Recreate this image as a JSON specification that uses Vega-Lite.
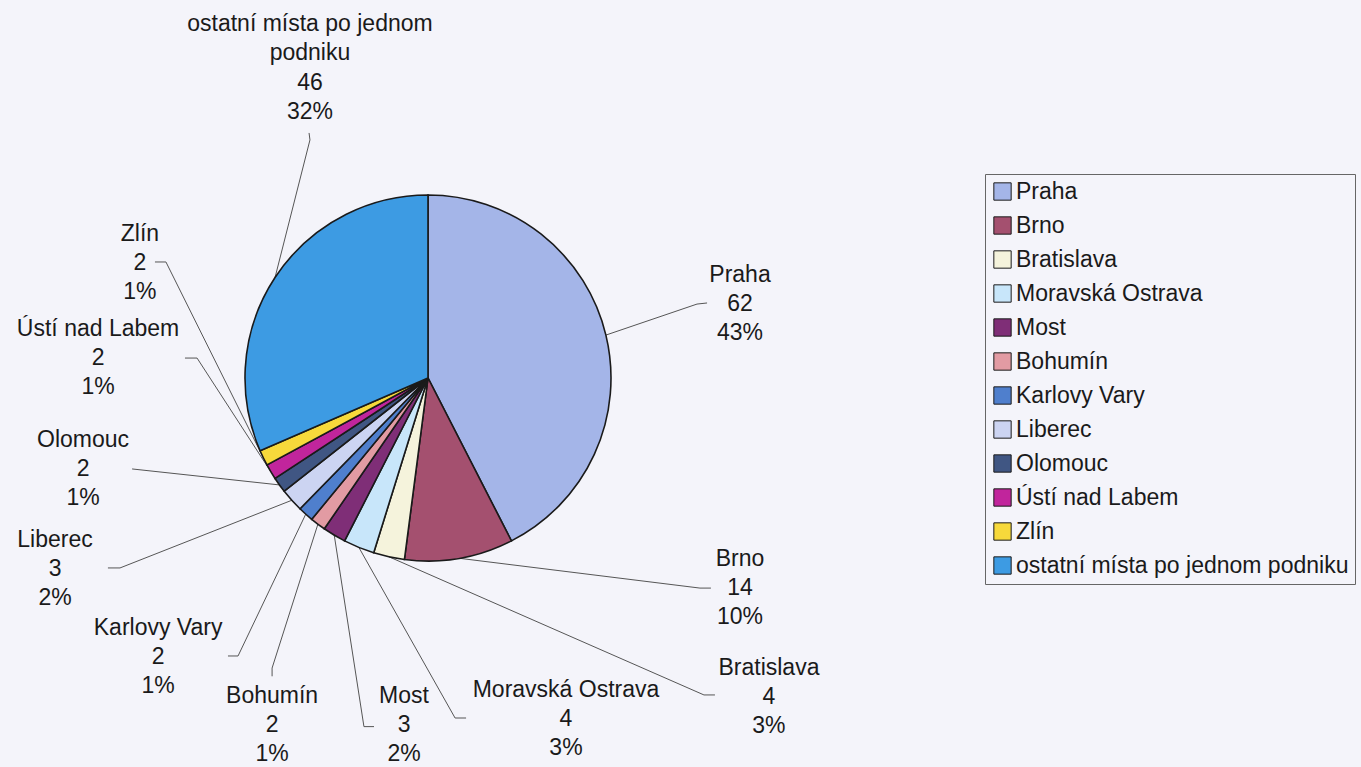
{
  "$schema": "https://vega.github.io/schema/vega-lite/v6.json",
  "width": 856,
  "height": 756,
  "autosize": {"type": "none"},
  "padding": {"left": 0, "top": 0, "right": 505, "bottom": 11},
  "background": "#f4f4fa",
  "config": {
    "view": {"stroke": null},
    "font": "Liberation Sans",
    "text": {"font": "Liberation Sans"}
  },
  "data": {
    "values": [
      {"i": 1, "name": "Praha", "tname": "Praha", "value": 62, "pct": "43%", "lx": 1.705, "ly": 0.404, "ex": 1.470, "ey": 0.404, "tx": 1.525, "ty": 0.410},
      {"i": 2, "name": "Brno", "tname": "Brno", "value": 14, "pct": "10%", "lx": 1.705, "ly": -1.148, "ex": 1.486, "ey": -1.148, "tx": 1.546, "ty": -1.148},
      {"i": 3, "name": "Bratislava", "tname": "Bratislava", "value": 4, "pct": "3%", "lx": 1.863, "ly": -1.743, "ex": 1.508, "ey": -1.732, "tx": 1.568, "ty": -1.732},
      {"i": 4, "name": "Moravská Ostrava", "tname": "Moravská Ostrava", "value": 4, "pct": "3%", "lx": 0.754, "ly": -1.863, "ex": 0.148, "ey": -1.858, "tx": 0.208, "ty": -1.858},
      {"i": 5, "name": "Most", "tname": "Most", "value": 3, "pct": "2%", "lx": -0.131, "ly": -1.897, "ex": -0.350, "ey": -1.905, "tx": -0.295, "ty": -1.905},
      {"i": 6, "name": "Bohumín", "tname": "Bohumín", "value": 2, "pct": "1%", "lx": -0.852, "ly": -1.897, "ex": -0.852, "ey": -1.585, "tx": -0.852, "ty": -1.630},
      {"i": 7, "name": "Karlovy Vary", "tname": "Karlovy Vary", "value": 2, "pct": "1%", "lx": -1.475, "ly": -1.525, "ex": -1.038, "ey": -1.519, "tx": -1.093, "ty": -1.519},
      {"i": 8, "name": "Liberec", "tname": "Liberec", "value": 3, "pct": "2%", "lx": -2.038, "ly": -1.044, "ex": -1.683, "ey": -1.038, "tx": -1.749, "ty": -1.038},
      {"i": 9, "name": "Olomouc", "tname": "Olomouc", "value": 2, "pct": "1%", "lx": -1.885, "ly": -0.497, "ex": -1.617, "ey": -0.497, "tx": -1.617, "ty": -0.497},
      {"i": 10, "name": "Ústí nad Labem", "tname": "Ústí nad Labem", "value": 2, "pct": "1%", "lx": -1.803, "ly": 0.109, "ex": -1.262, "ey": 0.109, "tx": -1.328, "ty": 0.109},
      {"i": 11, "name": "Zlín", "tname": "Zlín", "value": 2, "pct": "1%", "lx": -1.574, "ly": 0.628, "ex": -1.432, "ey": 0.634, "tx": -1.492, "ty": 0.634},
      {"i": 12, "name": "ostatní místa po jednom podniku", "tname": "ostatní místa po jednom|podniku", "value": 46, "pct": "32%", "lx": -0.645, "ly": 1.774, "ex": -0.645, "ey": 1.301, "tx": -0.650, "ty": 1.339}
    ]
  },
  "transform": [
    {"joinaggregate": [{"op": "sum", "field": "value", "as": "total"}]},
    {"window": [{"op": "sum", "field": "value", "as": "cum"}], "sort": [{"field": "i"}], "frame": [null, 0]},
    {"calculate": "2*PI*(datum.cum - datum.value/2)/datum.total", "as": "mid"},
    {"calculate": "sin(datum.mid)", "as": "sx"},
    {"calculate": "cos(datum.mid)", "as": "sy"},
    {"calculate": "datum.tname + '|' + datum.value + '|' + datum.pct", "as": "label"}
  ],
  "layer": [
    {
      "mark": {"type": "rule", "stroke": "#555555", "strokeWidth": 1},
      "encoding": {
        "x": {"field": "sx", "type": "quantitative", "scale": {"domain": [-2.3388, 2.3388], "nice": false, "zero": false}, "axis": null},
        "y": {"field": "sy", "type": "quantitative", "scale": {"domain": [-2.0656, 2.0656], "nice": false, "zero": false}, "axis": null},
        "x2": {"field": "ex"},
        "y2": {"field": "ey"}
      }
    },
    {
      "mark": {"type": "rule", "stroke": "#555555", "strokeWidth": 1},
      "encoding": {
        "x": {"field": "ex", "type": "quantitative", "scale": {"domain": [-2.3388, 2.3388], "nice": false, "zero": false}, "axis": null},
        "y": {"field": "ey", "type": "quantitative", "scale": {"domain": [-2.0656, 2.0656], "nice": false, "zero": false}, "axis": null},
        "x2": {"field": "tx"},
        "y2": {"field": "ty"}
      }
    },
    {
      "mark": {"type": "arc", "outerRadius": 183, "stroke": "#1a1a1a", "strokeWidth": 1.6},
      "encoding": {
        "theta": {"field": "value", "type": "quantitative", "stack": true},
        "order": {"field": "i", "type": "quantitative"},
        "color": {
          "field": "name",
          "type": "nominal",
          "scale": {
            "domain": ["Praha", "Brno", "Bratislava", "Moravská Ostrava", "Most", "Bohumín", "Karlovy Vary", "Liberec", "Olomouc", "Ústí nad Labem", "Zlín", "ostatní místa po jednom podniku"],
            "range": ["#a4b5e8", "#a4506f", "#f5f3dc", "#c8e6fa", "#7f2e77", "#e29ba3", "#4f7fcd", "#ccd4f2", "#405683", "#c1259c", "#f7d93b", "#3d9be3"]
          },
          "legend": {
            "orient": "none",
            "legendX": 985,
            "legendY": 174,
            "title": null,
            "symbolType": "square",
            "symbolSize": 300,
            "symbolStrokeColor": "#1a1a1a",
            "symbolStrokeWidth": 1,
            "labelFont": "Liberation Sans",
            "labelFontSize": 23,
            "labelColor": "#1a1a1a",
            "labelLimit": 0,
            "labelOffset": 2,
            "rowPadding": 10,
            "padding": 6,
            "strokeColor": "#666666"
          }
        }
      }
    },
    {
      "mark": {"type": "text", "align": "center", "baseline": "middle", "lineBreak": "|", "lineHeight": 29.3, "dy": -29.3, "fontSize": 23, "font": "Liberation Sans", "color": "#1a1a1a"},
      "encoding": {
        "x": {"field": "lx", "type": "quantitative", "scale": {"domain": [-2.3388, 2.3388], "nice": false, "zero": false}, "axis": null},
        "y": {"field": "ly", "type": "quantitative", "scale": {"domain": [-2.0656, 2.0656], "nice": false, "zero": false}, "axis": null},
        "text": {"field": "label"}
      }
    }
  ]
}
